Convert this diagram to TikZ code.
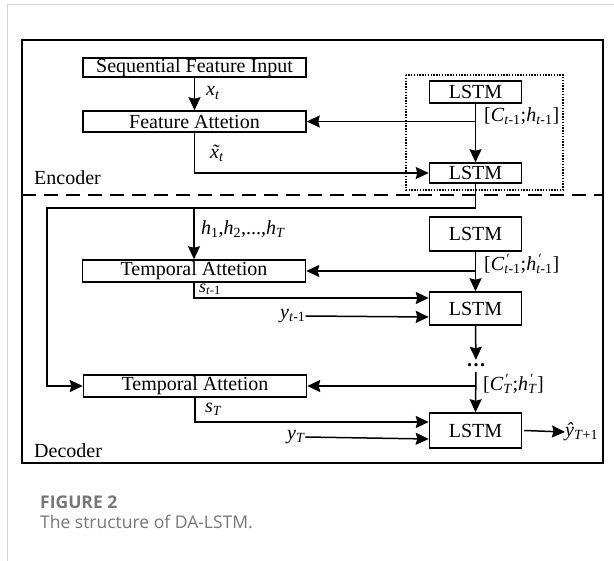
\documentclass[tikz,border=0pt]{standalone}
\usepackage{fontspec}
\setmainfont{Liberation Serif}
\newfontfamily\capfont{Open Sans}
\usetikzlibrary{arrows.meta}
\definecolor{capgray}{HTML}{767676}
\definecolor{framegray}{HTML}{D4D4D4}
% italic variable with a subscript
\newcommand\vsub[2]{\textit{#1}\textsubscript{#2}}
% italic variable with a prime stacked over its subscript
\newcommand\vpr[2]{\textit{#1}\rlap{\textsuperscript{\,′}}\textsubscript{#2}}
% x with a tilde
\newcommand\xtilde{\rlap{\textit{\hspace{0.08em}˜}}\textit{x}}
\begin{document}
\begin{tikzpicture}[x=1pt,y=-1pt,
  every node/.style={font=\fontsize{20}{23}\selectfont},
  box/.style={draw,line width=1.5pt,inner sep=0pt,minimum width=#1},
  box/.default=223pt,
  lstm/.style={box=92pt},
  lbl/.style={inner sep=0pt,anchor=west},
  arr/.style={line width=1.5pt,-{Stealth[inset=1.5pt,length=13pt,width=12pt]}}]
\useasboundingbox (0,0) rectangle (614,561);

% page frame
\draw[framegray,line width=1pt] (7,561) -- (7,5) -- (614,5);

% outer frame, encoder/decoder split and the encoder cell group
\draw[line width=1.9pt] (22,40) rectangle (603,463);
\draw[line width=1.5pt,dash pattern=on 14pt off 8pt] (22,195) -- (603,195);
\draw[line width=1.4pt,dash pattern=on 1.4pt off 1.4pt] (406,75) rectangle (563,190);

% encoder
\node[box,minimum height=19pt] (sfi) at (194.5,67.5) {Sequential Feature Input};
\node[box,minimum height=21pt] (fa) at (194.5,121.5) {Feature Attetion};
\node[lstm,minimum height=22pt] (lstmA) at (475.5,92) {LSTM};
\node[lstm,minimum height=20pt] (lstmB) at (475.5,173) {LSTM};

\draw[arr] (sfi) -- (fa);
\node[lbl] (xt) at (206,93) {\vsub{x}{\textit{t}}};
\draw[arr] (lstmA) -- (lstmB);
\draw[arr] (lstmA.south |- fa.east) -- (fa.east);
\node[lbl] (cA) at (484,116) {[\vsub{C}{\textit{t}-1};\vsub{h}{\textit{t}-1}]};
\draw[arr] (fa.south) |- (lstmB.west);
\node[lbl] (xtt) at (210,153) {\vsub{\xtilde}{\textit{t}}};
\node[lbl] (enc) at (34,178) {Encoder};

% decoder
\node[box,minimum height=22pt] (ta1) at (194,271) {Temporal Attetion};
\node[box,minimum height=22pt] (ta2) at (195,386) {Temporal Attetion};
\node[lstm,minimum height=34pt] (lstmC) at (475.5,234) {LSTM};
\node[lstm,minimum height=33pt] (lstmD) at (475.5,308.5) {LSTM};
\node[lstm,minimum height=35pt] (lstmE) at (475.5,430.5) {LSTM};

% hidden states fed to both temporal attention blocks
\coordinate (hl) at (47,208);
\draw[arr] (lstmB.south) |- (hl) |- (ta2.west);
\draw[arr] (ta1.north |- hl) -- (ta1.north);
\node[lbl] (hs) at (201,229) {\vsub{h}{1},\vsub{h}{2},...,\vsub{h}{\textit{T}}};

% step t
\draw[arr] (lstmC) -- (lstmD);
\draw[arr] (lstmC.south |- ta1.east) -- (ta1.east);
\node[lbl] (cC) at (484,264) {[\vpr{C}{\textit{t}-1};\vpr{h}{\textit{t}-1}]};
\draw[arr] (ta1.south) |- ([yshift=10.5pt]lstmD.west);
\node[lbl,font=\fontsize{18}{20}\selectfont] (st) at (199,289.5) {\vsub{s}{\textit{t}-1}};
\node[lbl] (yt) at (280,316) {\vsub{y}{\textit{t}-1}};
\draw[arr] (yt.east) -- ([yshift=-8.5pt]lstmD.west);

% step T
\node[inner sep=0pt,text height=4pt,text depth=0pt] (dots) at (476,365) {\textbf{.\hspace{1.5pt}.\hspace{1.5pt}.}};
\draw[arr,shorten >=3pt] (lstmD.south) -- (dots.north);
\draw[arr,shorten <=5pt] (dots.south) -- (lstmE.north);
\draw[arr] (dots.south |- ta2.east) -- (ta2.east);
\node[lbl] (cE) at (483,384) {[\vpr{C}{\textit{T}};\vpr{h}{\textit{T}}]};
\draw[arr] (ta2.south) |- ([yshift=8.5pt]lstmE.west);
\node[lbl] (sT) at (205,409) {\vsub{s}{\textit{T}}};
\node[lbl] (yT) at (287,437) {\vsub{y}{\textit{T}}};
\draw[arr] (yT.east) -- ([yshift=-8.5pt]lstmE.west);
\node[lbl] (yhat) at (565,432) {\vsub{ŷ}{\textit{T}+1}};
\draw[arr] ([xshift=2pt]lstmE.east) -- (yhat.west);
\node[lbl] (dec) at (34,451) {Decoder};

% caption
\node[lbl,font=\capfont\bfseries\fontsize{17.5}{20}\selectfont,text=capgray] (fig) at (40,502) {FIGURE 2};
\node[lbl,font=\capfont\fontsize{17.5}{20}\selectfont,text=capgray] (cap) at (40,522) {The structure of DA-LSTM.};
\end{tikzpicture}
\end{document}
